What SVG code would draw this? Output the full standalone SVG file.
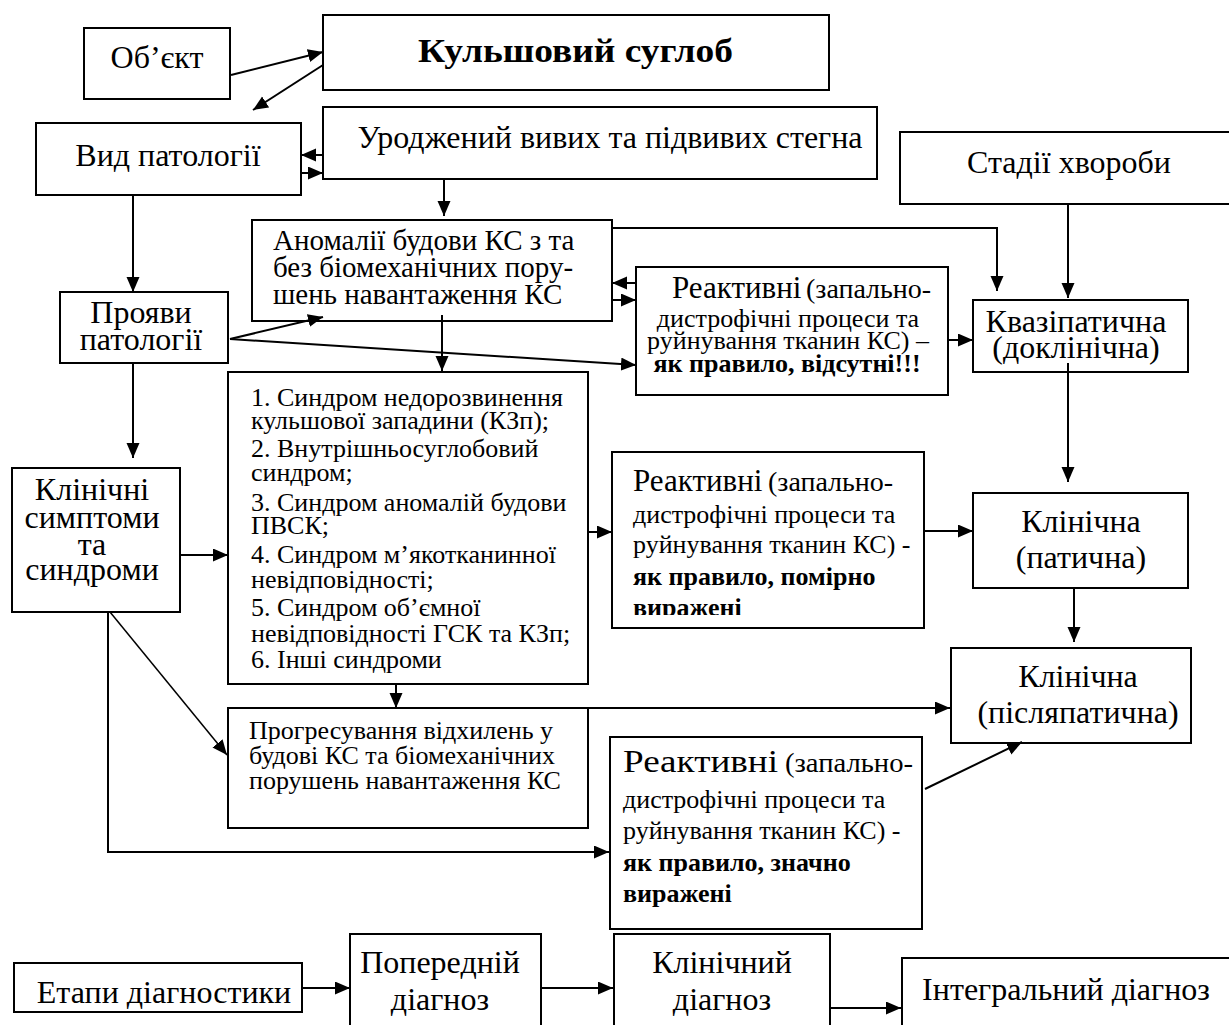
<svg xmlns="http://www.w3.org/2000/svg" width="1229" height="1025" viewBox="0 0 1229 1025">
<style>
.box{fill:#fff;stroke:#000;stroke-width:2}
.t{font-family:"Liberation Serif","Times New Roman",serif;font-size:32px;fill:#000}
.m{text-anchor:middle}
.s26{font-size:26px}
.s28{font-size:28px}
.s29{font-size:29px}
.s31{font-size:31px}
.b{font-weight:bold}
.ln{stroke:#000;stroke-width:2;fill:none;marker-end:url(#ah)}
.thin{stroke-width:1.5}
</style>
<defs>
<marker id="ah" markerUnits="userSpaceOnUse" markerWidth="16" markerHeight="14" refX="15" refY="6.5" orient="auto">
<path d="M0,0 L15,6.5 L0,13 z" fill="#000"/>
</marker>
<clipPath id="clipR2"><rect x="612" y="452" width="312" height="163"/></clipPath>
</defs>
<rect width="1229" height="1025" fill="#fff"/>

<g id="obj"><rect class="box" x="84" y="28" width="146" height="71"/><text class="t m" x="157" y="68">Об’єкт</text></g>
<g id="hip"><rect class="box" x="323" y="15" width="506" height="75"/><text class="t b" style="font-size:33px" x="418" y="62" textLength="315" lengthAdjust="spacingAndGlyphs">Кульшовий суглоб</text></g>
<g id="vid"><rect class="box" x="36" y="123" width="265" height="72"/><text class="t m" x="168" y="166">Вид патології</text></g>
<g id="urod"><rect class="box" x="323" y="107" width="554" height="72"/><text class="t m" x="610" y="148">Уроджений вивих та підвивих стегна</text></g>
<g id="stadii"><rect class="box" x="900" y="132" width="340" height="72"/><text class="t m" x="1069" y="173">Стадії хвороби</text></g>
<g id="anom"><rect class="box" x="252" y="220" width="360" height="101"/>
<text class="t s29" x="273" y="250">Аномалії будови КС з та</text>
<text class="t s29" x="273" y="277">без біомеханічних пору-</text>
<text class="t s29" x="273" y="304">шень навантаження КС</text></g>
<g id="reakt1"><rect class="box" x="636" y="267" width="312" height="128"/>
<text class="t s31" x="672" y="298">Реактивні</text>
<text class="t s28" x="806" y="298">(запально-</text>
<text class="t s26 m" x="788" y="327">дистрофічні процеси та</text>
<text class="t s26 m" x="788" y="349">руйнування тканин КС) –</text>
<text class="t s26 m b" x="787" y="372">як правило, відсутні!!!</text></g>
<g id="kvazi"><rect class="box" x="973" y="300" width="215" height="72"/>
<text class="t m" x="1076" y="332">Квазіпатична</text>
<text class="t m" x="1076" y="358">(доклінічна)</text></g>
<g id="proyavy"><rect class="box" x="60" y="292" width="168" height="71"/>
<text class="t m" x="141" y="323">Прояви</text>
<text class="t m" x="141" y="350">патології</text></g>
<g id="synd"><rect class="box" x="228" y="372" width="360" height="312"/>
<text class="t s26" x="251" y="406">1. Синдром недорозвинення</text>
<text class="t s26" x="251" y="429">кульшової западини (КЗп);</text>
<text class="t s26" x="251" y="457">2. Внутрішньосуглобовий</text>
<text class="t s26" x="251" y="481">синдром;</text>
<text class="t s26" x="251" y="511">3. Синдром аномалій будови</text>
<text class="t s26" x="251" y="534">ПВСК;</text>
<text class="t s26" x="251" y="563">4. Синдром м’якотканинної</text>
<text class="t s26" x="251" y="588">невідповідності;</text>
<text class="t s26" x="251" y="616">5. Синдром об’ємної</text>
<text class="t s26" x="251" y="642">невідповідності ГСК та КЗп;</text>
<text class="t s26" x="251" y="668">6. Інші синдроми</text></g>
<g id="klin-sympt"><rect class="box" x="12" y="468" width="168" height="144"/>
<text class="t m" x="92" y="500">Клінічні</text>
<text class="t m" x="92" y="528">симптоми</text>
<text class="t m" x="92" y="555">та</text>
<text class="t m" x="92" y="580">синдроми</text></g>
<g id="reakt2"><rect class="box" x="612" y="452" width="312" height="176"/>
<text class="t s31" x="633" y="491">Реактивні</text>
<text class="t s28" x="768" y="491">(запально-</text>
<text class="t s26" x="633" y="523">дистрофічні процеси та</text>
<text class="t s26" x="633" y="553">руйнування тканин КС) -</text>
<text class="t s26 b" x="633" y="585">як правило, помірно</text>
<text class="t s26 b" x="633" y="616" clip-path="url(#clipR2)">виражені</text></g>
<g id="klin-pat"><rect class="box" x="973" y="493" width="215" height="95"/>
<text class="t m" x="1081" y="532">Клінічна</text>
<text class="t m" x="1081" y="568">(патична)</text></g>
<g id="klin-post"><rect class="box" x="951" y="648" width="240" height="95"/>
<text class="t m" x="1078" y="687">Клінічна</text>
<text class="t m" x="1078" y="723">(післяпатична)</text></g>
<g id="progr"><rect class="box" x="228" y="708" width="360" height="120"/>
<text class="t s26" x="249" y="739">Прогресування відхилень у</text>
<text class="t s26" x="249" y="764">будові КС та біомеханічних</text>
<text class="t s26" x="249" y="789">порушень навантаження КС</text></g>
<g id="reakt3"><rect class="box" x="610" y="737" width="312" height="192"/>
<text class="t s31" x="623" y="772" textLength="155" lengthAdjust="spacingAndGlyphs">Реактивні</text>
<text class="t s28" x="785" y="772" textLength="128" lengthAdjust="spacingAndGlyphs">(запально-</text>
<text class="t s26" x="623" y="808">дистрофічні процеси та</text>
<text class="t s26" x="623" y="839">руйнування тканин КС) -</text>
<text class="t s26 b" x="623" y="871">як правило, значно</text>
<text class="t s26 b" x="623" y="902">виражені</text></g>
<g id="etapy"><rect class="box" x="14" y="963" width="288" height="49"/><text class="t m" x="164" y="1003">Етапи діагностики</text></g>
<g id="poperedn"><rect class="box" x="350" y="934" width="191" height="110"/>
<text class="t m" x="440" y="973">Попередній</text>
<text class="t m" x="440" y="1010">діагноз</text></g>
<g id="klin-diag"><rect class="box" x="614" y="934" width="216" height="110"/>
<text class="t m" x="722" y="973">Клінічний</text>
<text class="t m" x="722" y="1010">діагноз</text></g>
<g id="integr"><rect class="box" x="902" y="958" width="340" height="90"/>
<text class="t m" x="1066" y="1000">Інтегральний діагноз</text></g>

<g id="connectors">
<line class="ln" x1="231" y1="75" x2="323" y2="52"/>
<line class="ln" x1="323" y1="65" x2="253" y2="110"/>
<line class="ln" x1="323" y1="155" x2="301" y2="155"/>
<line class="ln" x1="301" y1="173" x2="323" y2="173"/>
<line class="ln" x1="444" y1="179" x2="444" y2="216"/>
<polyline class="ln" points="612,228 997,228 997,291"/>
<line class="ln" x1="1068" y1="204" x2="1068" y2="298"/>
<line class="ln" x1="636" y1="283" x2="612" y2="283"/>
<line class="ln" x1="612" y1="300" x2="636" y2="300"/>
<line class="ln" x1="948" y1="340" x2="973" y2="340"/>
<line class="ln" x1="133" y1="195" x2="133" y2="292"/>
<line class="ln" x1="230" y1="339" x2="323" y2="317"/>
<line class="ln" x1="230" y1="339" x2="636" y2="365"/>
<line class="ln" x1="442" y1="315" x2="442" y2="371"/>
<line class="ln" x1="133" y1="363" x2="133" y2="458"/>
<line class="ln" x1="180" y1="555" x2="228" y2="555"/>
<line class="ln" x1="1068" y1="363" x2="1068" y2="482"/>
<line class="ln" x1="588" y1="532" x2="612" y2="532"/>
<line class="ln" x1="924" y1="531" x2="973" y2="531"/>
<line class="ln" x1="1074" y1="588" x2="1074" y2="642"/>
<line class="ln" x1="396" y1="684" x2="396" y2="708"/>
<line class="ln thin" x1="110" y1="612" x2="227" y2="755"/>
<line class="ln" x1="588" y1="708" x2="950" y2="708"/>
<polyline class="ln" points="108,612 108,852 609,852"/>
<line class="ln" x1="925" y1="789" x2="1022" y2="742"/>
<line class="ln" x1="302" y1="988" x2="350" y2="988"/>
<line class="ln" x1="541" y1="988" x2="613" y2="988"/>
<line class="ln" x1="830" y1="1008" x2="901" y2="1008"/>
</g>
</svg>
